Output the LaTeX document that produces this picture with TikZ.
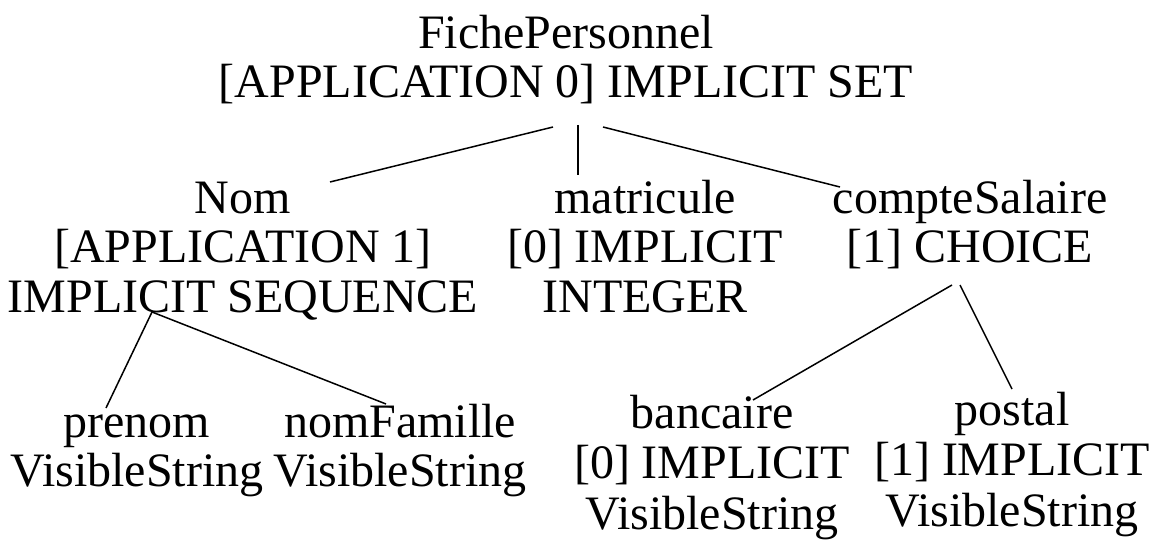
\documentclass[tikz,border=0pt]{standalone}
\usepackage{fontspec}
\setmainfont{Liberation Serif}
% fixed-height strut so every node's north edge sits 36pt above its first baseline
\newcommand{\firstln}{\rule{0pt}{36pt}}
\begin{document}
\begin{tikzpicture}[x=1pt,y=1pt,
  asn/.style={anchor=north,align=center,inner sep=0pt,
    font=\fontsize{48}{49.5}\selectfont},
  loose/.style={font=\fontsize{48}{50.5}\selectfont},
  edge/.style={line width=1.5pt}]
\useasboundingbox (0,0) rectangle (1154,-540);
\node[asn] (root) at (566,-12) {\firstln FichePersonnel\\{[}APPLICATION 0{]} IMPLICIT SET};
\node[asn] (nom) at (243,-177) {\firstln Nom\\{[}APPLICATION 1{]}\\IMPLICIT SEQUENCE};
\node[asn] (mat) at (645,-177) {\firstln matricule\\{[}0{]} IMPLICIT\\INTEGER};
\node[asn] (cpt) at (970,-177) {\firstln compteSalaire\\{[}1{]} CHOICE};
\node[asn] (pre) at (137,-401) {\firstln prenom\\VisibleString};
\node[asn] (fam) at (400,-401) {\firstln nomFamille\\VisibleString};
\node[asn,loose] (ban) at (712,-392) {\firstln bancaire\\{[}0{]} IMPLICIT\\VisibleString};
\node[asn,loose] (pos) at (1012,-389) {\firstln postal\\{[}1{]} IMPLICIT\\VisibleString};
\draw[edge] ([shift={(-13,-115)}]root.north) -- ([shift={(87,-5)}]nom.north);
\draw[edge] ([shift={(12,-113)}]root.north) -- ([shift={(-67,2)}]mat.north);
\draw[edge] ([shift={(37,-115)}]root.north) -- ([shift={(-130,-10)}]cpt.north);
\draw[edge] ([shift={(-91,-135)}]nom.north) -- ([shift={(-31,-7)}]pre.north);
\draw[edge] ([shift={(-91,-135)}]nom.north) -- ([shift={(-14,-3)}]fam.north);
\draw[edge] ([shift={(-18,-108)}]cpt.north) -- ([shift={(41,-8)}]ban.north);
\draw[edge] ([shift={(-10,-108)}]cpt.north) -- ([shift={(0,0)}]pos.north);
\end{tikzpicture}
\end{document}
